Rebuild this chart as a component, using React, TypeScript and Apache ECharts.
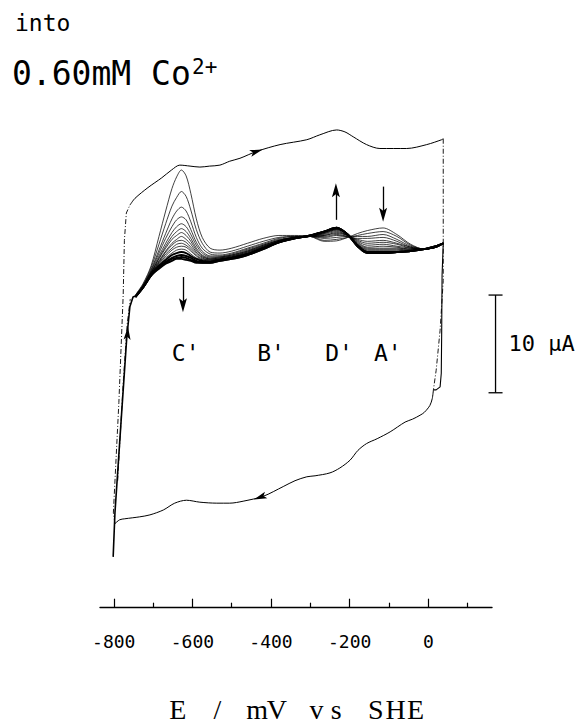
import React, { useEffect, useRef } from "react";
import * as echarts from "echarts";

// ---- x axis ----
const tickValues = [-800, -600, -400, -200, 0];
const minorTickValues = [-700, -500, -300, -100, 100];

// ---- repeated scans (anodic branches), current in µA vs potential in mV ----
const potentials = [-745, -725, -705, -685, -668, -652, -640, -628, -616, -604, -590, -575, -555, -530, -500, -460, -420, -380, -340, -300, -265, -233, -205, -180, -155, -115, -80, -45, -10, 20, 38];
const scan01 = [7.0, 8.2, 10.0, 13.0, 15.6, 17.9, 19.1, 19.8, 19.2, 17.4, 14.8, 12.9, 11.8, 11.6, 11.8, 12.3, 12.8, 13.1, 13.1, 13.0, 12.5, 12.55, 12.9, 13.3, 13.6, 13.87, 13.2, 12.2, 11.7, 11.9, 12.3];
const scan02 = [7.0, 8.1, 9.8, 12.2, 14.3, 16.1, 17.0, 17.6, 17.1, 15.7, 13.7, 12.3, 11.4, 11.3, 11.5, 12.0, 12.5, 12.9, 13.0, 13.0, 12.6, 12.7, 12.9, 13.1, 13.3, 13.5, 13.0, 12.1, 11.7, 11.9, 12.3];
const scan03 = [6.9, 8.0, 9.6, 11.6, 13.3, 14.8, 15.6, 16.0, 15.6, 14.5, 12.9, 11.8, 11.2, 11.1, 11.3, 11.8, 12.3, 12.8, 13.0, 13.0, 12.8, 12.9, 13.0, 13.0, 13.0, 13.2, 12.7, 12.0, 11.7, 11.9, 12.3];
const scan04 = [6.9, 8.0, 9.5, 11.3, 12.8, 14.0, 14.7, 15.0, 14.7, 13.7, 12.4, 11.5, 11.0, 11.0, 11.2, 11.7, 12.2, 12.7, 12.9, 13.0, 12.9, 13.1, 13.0, 12.8, 12.8, 12.9, 12.5, 11.9, 11.7, 11.9, 12.3];
const scan05 = [6.9, 8.0, 9.4, 11.0, 12.3, 13.4, 14.0, 14.3, 14.0, 13.2, 12.1, 11.3, 10.9, 10.9, 11.1, 11.6, 12.1, 12.6, 12.9, 13.0, 13.0, 13.2, 13.0, 12.7, 12.5, 12.6, 12.3, 11.9, 11.7, 11.9, 12.3];
const scan06 = [6.9, 7.9, 9.3, 10.8, 12.0, 13.0, 13.5, 13.8, 13.5, 12.8, 11.8, 11.1, 10.8, 10.9, 11.1, 11.5, 12.1, 12.6, 12.9, 13.0, 13.1, 13.3, 13.1, 12.6, 12.3, 12.4, 12.2, 11.8, 11.7, 11.9, 12.3];
const scan07 = [6.9, 7.9, 9.3, 10.7, 11.8, 12.7, 13.1, 13.4, 13.1, 12.5, 11.6, 11.0, 10.7, 10.8, 11.0, 11.5, 12.0, 12.6, 12.9, 13.0, 13.1, 13.4, 13.1, 12.5, 12.1, 12.2, 12.0, 11.8, 11.7, 11.9, 12.3];
const scan08 = [6.9, 7.9, 9.3, 10.5, 11.5, 12.3, 12.7, 13.0, 12.7, 12.2, 11.4, 10.9, 10.7, 10.8, 11.0, 11.4, 12.0, 12.5, 12.9, 13.0, 13.2, 13.5, 13.1, 12.4, 11.9, 12.0, 11.9, 11.7, 11.7, 11.9, 12.3];
const scan09 = [6.8, 7.9, 9.2, 10.4, 11.4, 12.1, 12.5, 12.6, 12.4, 11.9, 11.3, 10.8, 10.6, 10.7, 10.9, 11.4, 11.9, 12.5, 12.9, 13.0, 13.3, 13.6, 13.1, 12.3, 11.8, 11.8, 11.8, 11.7, 11.7, 11.9, 12.3];
const scan10 = [6.8, 7.9, 9.2, 10.3, 11.2, 11.8, 12.2, 12.3, 12.1, 11.7, 11.1, 10.7, 10.6, 10.7, 10.9, 11.3, 11.9, 12.5, 12.9, 13.0, 13.3, 13.7, 13.2, 12.2, 11.7, 11.7, 11.7, 11.6, 11.7, 11.9, 12.3];
const scan11 = [6.8, 7.9, 9.2, 10.2, 11.0, 11.6, 11.9, 12.0, 11.9, 11.5, 11.0, 10.6, 10.5, 10.7, 10.9, 11.3, 11.9, 12.5, 12.8, 13.0, 13.4, 13.7, 13.2, 12.2, 11.6, 11.6, 11.6, 11.6, 11.7, 11.9, 12.3];
const scan12 = [6.8, 7.8, 9.1, 10.1, 10.8, 11.3, 11.6, 11.7, 11.6, 11.2, 10.8, 10.6, 10.5, 10.6, 10.8, 11.2, 11.8, 12.4, 12.8, 13.1, 13.4, 13.8, 13.2, 12.1, 11.5, 11.5, 11.5, 11.6, 11.7, 12.0, 12.3];
const scan13 = [6.8, 7.8, 9.1, 10.0, 10.6, 11.1, 11.3, 11.4, 11.3, 11.0, 10.7, 10.5, 10.4, 10.6, 10.8, 11.2, 11.8, 12.4, 12.8, 13.1, 13.5, 13.8, 13.2, 12.1, 11.4, 11.4, 11.4, 11.5, 11.7, 12.0, 12.3];
const scan14 = [6.8, 7.8, 9.0, 9.9, 10.4, 10.8, 11.0, 11.1, 11.0, 10.8, 10.5, 10.4, 10.4, 10.6, 10.8, 11.2, 11.8, 12.4, 12.8, 13.1, 13.5, 13.9, 13.2, 12.0, 11.4, 11.3, 11.4, 11.5, 11.7, 12.0, 12.3];
const scan15 = [6.8, 7.8, 9.0, 9.8, 10.3, 10.7, 10.8, 10.9, 10.8, 10.6, 10.4, 10.3, 10.3, 10.5, 10.7, 11.1, 11.7, 12.4, 12.8, 13.1, 13.5, 13.9, 13.2, 12.0, 11.3, 11.3, 11.4, 11.5, 11.7, 12.0, 12.3];
const scan16 = [6.8, 7.8, 9.0, 9.7, 10.2, 10.5, 10.7, 10.7, 10.6, 10.5, 10.3, 10.3, 10.3, 10.5, 10.7, 11.1, 11.7, 12.4, 12.8, 13.1, 13.5, 13.9, 13.2, 12.0, 11.3, 11.3, 11.4, 11.5, 11.7, 12.0, 12.3];
const scans = [scan01, scan02, scan03, scan04, scan05, scan06, scan07, scan08, scan09, scan10, scan11, scan12, scan13, scan14, scan15, scan16];

// ---- outer loop ----
const outerFwdE = [-759, -746, -713, -678, -653, -632, -606, -581, -556, -530, -505, -479, -437, -377, -309, -276, -233, -212, -191, -157, -123, -55, -4, 34, 38];
const outerFwdI = [16.2, 16.9, 18.0, 19.0, 19.8, 20.3, 20.2, 20.1, 20.2, 20.3, 20.7, 21.0, 21.7, 22.4, 22.9, 23.4, 23.9, 23.7, 23.2, 22.4, 22.0, 22.0, 22.4, 22.9, 23.0];
const outerRevE = [13, 10, 4, -10, -21, -40, -59, -97, -130, -157, -179, -199, -225, -250, -288, -309, -339, -369, -420, -471, -505, -538, -581, -615, -645, -674, -708, -734, -772, -785, -797];
const outerRevI = [-2.7, -3.6, -4.3, -5.0, -5.3, -5.7, -6.0, -7.0, -7.7, -8.2, -8.9, -9.9, -10.7, -11.2, -11.5, -11.6, -12.0, -12.6, -13.6, -14.1, -14.3, -14.3, -14.2, -14.0, -14.3, -15.0, -15.5, -15.7, -15.9, -16.0, -16.4];
const outerLeftE = [-797, -801, -787, -776, -773, -768, -759];
const outerLeftI = [-16.4, -15.3, -4.0, 7.0, 12.6, 15.4, 16.2];
const outerRightE = [38, 38, 30, 20, 13];
const outerRightI = [23.0, 8.5, 3.4, -0.7, -2.7];

// ---- reversal branches of the repeated scans ----
const riseE = [-801.5, -797, -780, -767, -759, -751, -745];
const riseI = [-19.8, -15.3, -5.1, 2.6, 5.8, 6.8, 6.9];
const dropE = [38, 35, 34, 33, 30, 20, 13];
const dropI = [12.3, 9.0, 3.0, -1.0, -2.4, -2.7, -2.7];
const firstRiseE = [-790, -776, -766, -758];
const firstRiseI = [-12.0, -2.0, 4.0, 6.6];

// ---- annotations ----
const peakLabels = ["C'", "B'", "D'", "A'"];
const peakLabelE = [-617, -400, -227, -103];
const peakLabelI = [1.1, 1.1, 1.1, 1.1];
const trendArrowE = [-624, -235, -115];
const trendArrowFrom = [8.85, 14.7, 18.1];
const trendArrowTip = [5.25, 18.45, 14.5];
const scanArrowE = [-437, -428, -765];
const scanArrowI = [21.7, -13.7, 3.1];
const scanArrowRot = [-72, 110, -4];
const scaleBarE = 171;
const scaleBarLow = -3;
const scaleBarHigh = 7;

const zip = (a: number[], b: number[]) => a.map((v, i) => [v, b[i]]);
const ARROW = "path://M0,0 L4,14 L0,11 L-4,14 Z";
const MONO = '"DejaVu Sans Mono", monospace';

export default function App() {
  const ref = useRef<HTMLDivElement>(null);
  useEffect(() => {
    if (!ref.current) return;
    const chart = echarts.init(ref.current, null, { renderer: "svg" });
    const thin = (w: number, dashed = false) => ({
      color: "#000",
      width: w,
      type: dashed ? ([5, 2, 1, 2] as any) : "solid",
    });
    const lineSeries = (data: number[][], lw: number, dashed = false, smooth: number | boolean = 0.3) => ({
      type: "line",
      data,
      showSymbol: false,
      symbol: "none",
      smooth,
      lineStyle: thin(lw, dashed),
      silent: true,
      z: 2,
    });
    const halfHead = 7 / 9.77;
    const series: any[] = [];
    scans.forEach((s, k) => {
      series.push(lineSeries(zip(potentials, s), k >= 12 ? 1.9 : 0.75));
    });
    const fwd: any = lineSeries(zip(outerFwdE, outerFwdI), 1.0);
    fwd.markLine = {
      silent: true,
      symbol: ["none", "none"],
      label: { show: false },
      lineStyle: { color: "#000", width: 1.3, type: "solid" },
      data: trendArrowE.map((e, i) => {
        const dir = trendArrowTip[i] > trendArrowFrom[i] ? 1 : -1;
        return [
          { coord: [e, trendArrowFrom[i]] },
          { coord: [e, trendArrowTip[i] - dir * halfHead * 1.2] },
        ];
      }),
    };
    fwd.markPoint = {
      silent: true,
      symbol: ARROW,
      symbolSize: [8, 14],
      itemStyle: { color: "#000" },
      label: { show: false },
      data: [
        ...trendArrowE.map((e, i) => {
          const dir = trendArrowTip[i] > trendArrowFrom[i] ? 1 : -1;
          return {
            coord: [e, trendArrowTip[i] - dir * halfHead],
            symbolRotate: dir > 0 ? 0 : 180,
          };
        }),
        ...scanArrowE.map((e, i) => ({
          coord: [e, scanArrowI[i]],
          symbolRotate: scanArrowRot[i],
          symbolSize: [7, 13],
        })),
      ],
    };
    series.push(fwd);
    series.push(lineSeries(zip(outerRevE, outerRevI), 1.0));
    series.push(lineSeries(zip(outerLeftE, outerLeftI), 0.9, true, false));
    series.push(lineSeries(zip(outerRightE, outerRightI), 0.9, true, false));
    series.push(lineSeries(zip(riseE, riseI), 1.6, false, false));
    series.push(lineSeries(zip(dropE, dropI), 1.1, false, false));
    series.push(lineSeries(zip(firstRiseE, firstRiseI), 0.8, true, false));

    const option: any = {
      animation: false,
      backgroundColor: "#fff",
      grid: { left: 100, right: 90, top: 119.2, bottom: 119.3, outerBoundsMode: "none" },
      xAxis: [
        {
          type: "value",
          min: -835,
          max: 162,
          position: "bottom",
          axisLine: { show: true, onZero: false, lineStyle: { color: "#000", width: 1.4 } },
          axisTick: { show: true, inside: true, length: 9, customValues: tickValues, lineStyle: { color: "#000", width: 1.2 } },
          axisLabel: { show: true, customValues: tickValues, margin: 25, fontFamily: MONO, fontSize: 18, color: "#000" },
          splitLine: { show: false },
        },
        {
          type: "value",
          min: -835,
          max: 162,
          position: "bottom",
          axisLine: { show: false, onZero: false },
          axisTick: { show: true, inside: true, length: 5, customValues: minorTickValues, lineStyle: { color: "#000", width: 1.2 } },
          axisLabel: { show: false },
          splitLine: { show: false },
        },
      ],
      yAxis: { type: "value", min: -25, max: 25, show: false, splitLine: { show: false } },
      series,
    };
    chart.setOption(option);

    const toPx = (e: number, i: number) => chart.convertToPixel({ gridIndex: 0 } as any, [e, i]) as number[];
    const pHigh = toPx(scaleBarE, scaleBarHigh);
    const pLow = toPx(scaleBarE, scaleBarLow);
    const bx = pHigh[0];
    const title = "E / mV vs SHE";
    const cell = 19.8;
    const titleLeft = 168;
    const graphic: any[] = [
      { type: "text", left: 15, top: 11, style: { text: "into", font: `23px ${MONO}`, fill: "#000" } },
      { type: "text", left: 12, top: 57, style: { text: "0.60mM Co", font: `33px ${MONO}`, fill: "#000" } },
      { type: "text", left: 192, top: 56, style: { text: "2+", font: `21px ${MONO}`, fill: "#000" } },
      { type: "line", shape: { x1: bx, y1: pHigh[1], x2: bx, y2: pLow[1] }, style: { stroke: "#000", lineWidth: 1.3 } },
      { type: "line", shape: { x1: bx - 7, y1: pHigh[1], x2: bx + 7, y2: pHigh[1] }, style: { stroke: "#000", lineWidth: 1.3 } },
      { type: "line", shape: { x1: bx - 7, y1: pLow[1], x2: bx + 7, y2: pLow[1] }, style: { stroke: "#000", lineWidth: 1.3 } },
      {
        type: "text",
        x: bx + 13,
        y: (pHigh[1] + pLow[1]) / 2,
        style: { text: "10 µA", font: `22px ${MONO}`, fill: "#000", verticalAlign: "middle", align: "left" },
      },
    ];
    peakLabels.forEach((t, i) => {
      const p = toPx(peakLabelE[i], peakLabelI[i]);
      graphic.push({
        type: "text",
        x: p[0],
        y: p[1],
        style: { text: t, font: `23px ${MONO}`, fill: "#000", align: "center", verticalAlign: "middle" },
      });
    });
    title.split("").forEach((ch, i) => {
      if (ch === " ") return;
      graphic.push({
        type: "text",
        x: titleLeft + (i + 0.5) * cell,
        y: 709,
        style: { text: ch, font: '28px "Liberation Serif", serif', fill: "#000", align: "center", verticalAlign: "middle" },
      });
    });
    chart.setOption({ graphic });
    return () => chart.dispose();
  }, []);
  return (
    <div
      ref={ref}
      style={{ position: "fixed", left: 0, top: 0, width: 582, height: 727, background: "#fff" }}
    />
  );
}
